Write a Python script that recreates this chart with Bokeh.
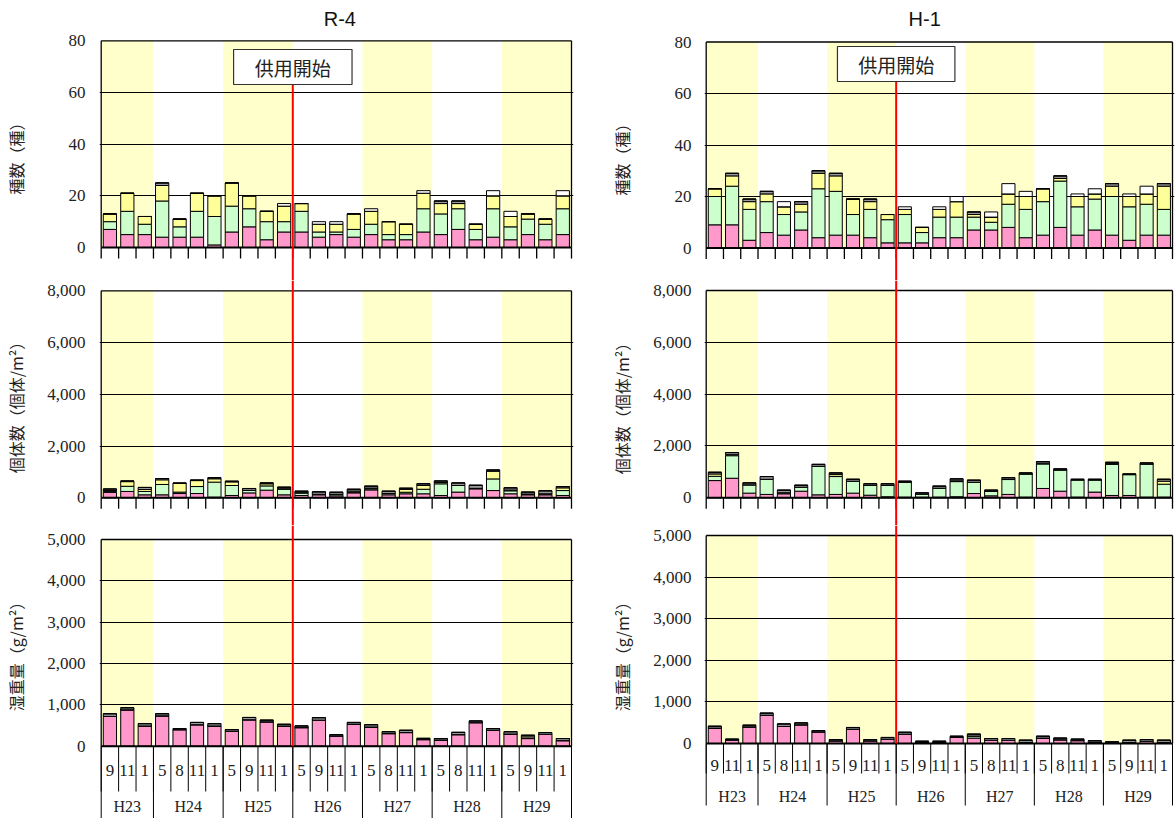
import numpy as np
from bokeh.plotting import figure
from bokeh.models import ColumnDataSource, FixedTicker, Range1d, NumeralTickFormatter
from bokeh.layouts import row, column
from bokeh.embed import file_html
from bokeh.resources import INLINE
from bokeh.core.properties import value

# ------------------------------------------------------------------ data
MONTHS = ["9", "11", "1",
          "5", "8", "11", "1",
          "5", "9", "11", "1",
          "5", "9", "11", "1",
          "5", "8", "11", "1",
          "5", "8", "11", "1",
          "5", "9", "11", "1"]
YEARS = ["H23", "H24", "H25", "H26", "H27", "H28", "H29"]
YEAR_SIZES = [3, 4, 4, 4, 4, 4, 4]
SHADED_YEARS = ["H23", "H25", "H27", "H29"]
START_YEAR = "H26"
START_LABEL = "供用開始"
STATIONS = ["R-4", "H-1"]
GROUPS = ["環形動物", "軟体動物", "節足動物", "棘皮動物", "その他"]
Y_LABELS = ["種数（種）", "個体数（個体/m²）", "湿重量（g/m²）"]
Y_TICKS = [[0, 20, 40, 60, 80],
           [0, 2000, 4000, 6000, 8000],
           [0, 1000, 2000, 3000, 4000, 5000]]

# R-4 species
R4_SP_ANN = [7, 5, 5, 4, 4, 4, 1, 6, 8, 3, 6, 6, 4, 5, 4, 5, 3, 3, 6, 5, 7, 3, 4, 3, 5, 3, 5]
R4_SP_MOL = [3, 9, 4, 14, 4, 10, 11, 10, 7, 7, 4, 8, 2, 1, 3, 4, 2, 2, 9, 8, 8, 4, 11, 5, 6, 6, 10]
R4_SP_ART = [3, 7, 3, 6, 3, 7, 8, 9, 5, 4, 6, 3, 3, 3, 6, 5, 5, 4, 6, 4, 2, 2, 5, 4, 2, 2, 5]
R4_SP_ECH = [0, 0, 0, 1, 0, 0, 0, 0, 0, 0, 0, 0, 0, 0, 0, 0, 0, 0, 0, 1, 1, 0, 0, 0, 0, 0, 0]
R4_SP_OTH = [0, 0, 0, 0, 0, 0, 0, 0, 0, 0, 1, 0, 1, 1, 0, 1, 0, 0, 1, 0, 0, 0, 2, 2, 0, 0, 2]
# H-1 species
H1_SP_ANN = [9, 9, 3, 6, 5, 7, 4, 5, 5, 4, 2, 2, 2, 4, 4, 7, 7, 8, 4, 5, 8, 5, 7, 5, 3, 5, 5]
H1_SP_MOL = [11, 15, 12, 12, 8, 7, 19, 17, 8, 11, 9, 11, 4, 8, 8, 5, 3, 9, 11, 13, 18, 11, 12, 15, 13, 12, 10]
H1_SP_ART = [3, 4, 3, 3, 3, 3, 6, 6, 6, 3, 2, 2, 2, 3, 6, 1, 2, 4, 5, 5, 1, 4, 2, 4, 4, 4, 9]
H1_SP_ECH = [0, 1, 1, 1, 0, 1, 1, 1, 0, 1, 0, 0, 0, 0, 0, 1, 0, 0, 0, 0, 1, 0, 0, 1, 0, 0, 1]
H1_SP_OTH = [0, 0, 0, 0, 2, 0, 0, 0, 0, 0, 0, 1, 0, 1, 2, 0, 2, 4, 2, 0, 0, 1, 2, 0, 1, 3, 0]
# R-4 abundance (individuals/m2)
R4_AB_ANN = [210, 245, 115, 115, 165, 165, 25, 90, 190, 295, 115, 90, 115, 75, 190, 305, 115, 155, 155, 90, 220, 345, 280, 155, 115, 115, 90]
R4_AB_MOL = [40, 200, 130, 400, 55, 270, 580, 385, 100, 165, 215, 90, 20, 60, 30, 40, 50, 60, 175, 450, 255, 20, 450, 115, 30, 40, 190]
R4_AB_ART = [30, 180, 75, 180, 345, 230, 130, 140, 0, 80, 20, 20, 0, 0, 40, 30, 0, 110, 145, 50, 0, 0, 295, 30, 0, 0, 105]
R4_AB_ECH = [60, 25, 80, 50, 0, 20, 40, 25, 70, 35, 60, 55, 95, 80, 70, 75, 90, 45, 65, 60, 100, 120, 50, 85, 75, 115, 50]
R4_AB_OTH = [0, 0, 0, 0, 0, 0, 0, 0, 0, 0, 0, 0, 0, 0, 0, 0, 0, 0, 0, 0, 0, 0, 0, 0, 0, 0, 0]
# H-1 abundance
H1_AB_ANN = [665, 755, 180, 130, 155, 255, 115, 130, 180, 100, 40, 25, 25, 25, 40, 165, 75, 130, 25, 360, 255, 25, 220, 90, 90, 25, 25]
H1_AB_MOL = [165, 870, 320, 585, 40, 155, 1100, 690, 460, 375, 435, 580, 115, 345, 585, 435, 170, 575, 895, 945, 820, 665, 470, 1200, 805, 1280, 500]
H1_AB_ART = [90, 40, 0, 0, 0, 0, 0, 75, 0, 0, 0, 0, 0, 0, 30, 0, 0, 20, 0, 30, 0, 0, 0, 30, 0, 0, 115]
H1_AB_ECH = [65, 80, 75, 105, 100, 75, 75, 65, 75, 65, 65, 35, 50, 80, 75, 80, 50, 55, 40, 60, 40, 25, 25, 50, 25, 40, 75]
H1_AB_OTH = [0, 0, 0, 0, 0, 0, 0, 0, 0, 0, 0, 0, 0, 0, 0, 0, 0, 0, 0, 0, 0, 0, 0, 0, 0, 0, 0]
# R-4 wet weight (g/m2)
R4_BM_ANN = [720, 880, 490, 735, 400, 520, 490, 360, 640, 590, 490, 450, 630, 250, 535, 465, 305, 330, 160, 150, 280, 570, 385, 295, 185, 290, 135]
R4_BM_MOL = [0, 0, 0, 0, 0, 0, 0, 0, 0, 0, 0, 0, 0, 0, 0, 0, 0, 0, 0, 0, 0, 0, 0, 0, 0, 0, 0]
R4_BM_ART = [0, 0, 0, 0, 0, 0, 0, 0, 0, 0, 0, 0, 0, 0, 0, 0, 0, 0, 0, 0, 0, 0, 0, 0, 40, 0, 0]
R4_BM_ECH = [65, 50, 55, 50, 25, 55, 55, 40, 55, 40, 40, 40, 60, 30, 40, 55, 45, 55, 30, 35, 55, 40, 40, 55, 40, 40, 50]
R4_BM_OTH = [0, 0, 0, 0, 0, 0, 0, 0, 0, 0, 0, 0, 0, 0, 0, 0, 0, 0, 0, 0, 0, 0, 0, 0, 0, 0, 0]
# H-1 wet weight
H1_BM_ANN = [370, 80, 400, 680, 410, 450, 280, 65, 345, 65, 105, 225, 25, 25, 145, 130, 80, 80, 25, 130, 90, 70, 25, 15, 25, 55, 25]
H1_BM_MOL = [0, 0, 0, 0, 0, 0, 0, 0, 0, 0, 0, 0, 0, 0, 0, 50, 0, 0, 0, 0, 0, 0, 0, 0, 0, 0, 0]
H1_BM_ART = [0, 0, 0, 0, 0, 0, 0, 0, 0, 0, 0, 0, 0, 0, 0, 0, 0, 0, 0, 0, 0, 0, 0, 0, 0, 0, 0]
H1_BM_ECH = [45, 25, 40, 50, 60, 45, 30, 30, 40, 30, 40, 45, 30, 30, 30, 45, 40, 40, 55, 45, 40, 35, 40, 25, 55, 40, 55]
H1_BM_OTH = [0, 0, 0, 0, 0, 0, 0, 0, 0, 0, 0, 0, 0, 0, 0, 0, 0, 0, 0, 0, 0, 0, 0, 0, 0, 0, 0]

STATION_DATA = {
    "R-4": [[R4_SP_ANN, R4_SP_MOL, R4_SP_ART, R4_SP_ECH, R4_SP_OTH],
            [R4_AB_ANN, R4_AB_MOL, R4_AB_ART, R4_AB_ECH, R4_AB_OTH],
            [R4_BM_ANN, R4_BM_MOL, R4_BM_ART, R4_BM_ECH, R4_BM_OTH]],
    "H-1": [[H1_SP_ANN, H1_SP_MOL, H1_SP_ART, H1_SP_ECH, H1_SP_OTH],
            [H1_AB_ANN, H1_AB_MOL, H1_AB_ART, H1_AB_ECH, H1_AB_OTH],
            [H1_BM_ANN, H1_BM_MOL, H1_BM_ART, H1_BM_ECH, H1_BM_OTH]],
}

# ------------------------------------------------------------------ styles / layout (page pixels)
COLORS = ["#FF99CC", "#CCFFCC", "#FFFF99", "#999999", "#FFFFFF"]
SHADE = "#FFFFCC"
SERIF_NAME = "Liberation Serif, DejaVu Serif, serif"
SERIF = value(SERIF_NAME)
CJK = value("Noto Sans CJK JP")
FRAME_TOPS = [0, 280, 525]
FRAME_BOTTOMS = [280, 525, 818]

GEOM = {
    "R-4": dict(fig_left=30, fig_right=598, frame_left=99, frame_right=573,
                x0=100.7, x27=571.0,
                panels=[(40.3, 247.0), (290.3, 497.3), (539.0, 745.7)],
                month_y=770, month_sep=791, year_y=806, year_sep=818,
                title_x=13.7, title_y=18.3, box=(49, 84), standoff=14),
    "H-1": dict(fig_left=640, fig_right=1175, frame_left=704, frame_right=1174,
                x0=705.7, x27=1172.0,
                panels=[(41.5, 247.5), (290.0, 497.3), (535.0, 743.0)],
                month_y=765, month_sep=773, year_y=796, year_sep=805,
                title_x=12.65, title_y=18.3, box=(46, 81), standoff=13),
}
LABEL_GEOM = {"R-4": dict(left=0, width=30, x=15.6, ys=[154, 403, 652]),
              "H-1": dict(left=598, width=42, x=621.6, ys=[155, 404, 652])}

N = len(MONTHS)
BOUNDS = list(np.cumsum([0] + YEAR_SIZES))


def make_panel(station, idx):
    g = GEOM[station]
    vmax = Y_TICKS[idx][-1]
    top, zero = g["panels"][idx]
    ftop, fbot = FRAME_TOPS[idx], FRAME_BOTTOMS[idx]
    ppu = (zero - top) / vmax

    def d(yp):
        return (zero - yp) / ppu

    slot = (g["x27"] - g["x0"]) / N
    xs = -(g["x0"] - g["frame_left"]) / slot
    xe = N + (g["frame_right"] - g["x27"]) / slot

    p = figure(frame_width=g["frame_right"] - g["frame_left"], frame_height=fbot - ftop,
               x_range=Range1d(xs, xe), y_range=Range1d(d(fbot), d(ftop)),
               min_border_left=g["frame_left"] - g["fig_left"],
               min_border_right=g["fig_right"] - g["frame_right"],
               min_border_top=0, min_border_bottom=0,
               x_axis_location=None, y_axis_location="left",
               toolbar_location=None, output_backend="svg", title=None,
               outline_line_color=None, background_fill_color="white",
               border_fill_color="white")

    # y axis
    ax = p.yaxis[0]
    ax.ticker = FixedTicker(ticks=Y_TICKS[idx])
    if idx > 0:
        ax.formatter = NumeralTickFormatter(format="0,0")
    ax.axis_line_color = None
    ax.major_tick_line_color = None
    ax.minor_tick_line_color = None
    ax.major_tick_out = 0
    ax.major_tick_in = 0
    ax.major_label_standoff = g["standoff"]
    ax.major_label_text_font = SERIF_NAME
    ax.major_label_text_font_size = "17px"
    ax.major_label_text_color = "#222222"

    p.xgrid.visible = False
    p.ygrid.ticker = FixedTicker(ticks=Y_TICKS[idx][1:-1])
    p.ygrid.grid_line_color = "#000000"
    p.ygrid.grid_line_width = 1

    # shaded fiscal years
    sh_l = [BOUNDS[i] for i, yname in enumerate(YEARS) if yname in SHADED_YEARS]
    sh_r = [BOUNDS[i + 1] for i, yname in enumerate(YEARS) if yname in SHADED_YEARS]
    r = p.quad(left=sh_l, right=sh_r, bottom=0, top=vmax, fill_color=SHADE, line_color=None)
    r.level = "image"

    # stacked bars
    series = STATION_DATA[station][idx]
    src = ColumnDataSource(dict(x=[i + 0.5 for i in range(N)], **{GROUPS[k]: series[k] for k in range(len(GROUPS))}))
    p.vbar_stack(GROUPS, x="x", width=0.76, source=src, fill_color=COLORS,
                 line_color="black", line_width=1)

    # frame lines
    p.segment(x0=[0, 0, N], y0=[vmax, 0, 0], x1=[N, 0, N], y1=[vmax, vmax, vmax],
              line_color="black", line_width=1.3)
    p.segment(x0=[0], y0=[0], x1=[N], y1=[0], line_color="black", line_width=2)

    start_x = BOUNDS[YEARS.index(START_YEAR)]
    if idx < 2:
        ticks = list(range(N + 1))
        p.segment(x0=ticks, y0=0, x1=ticks, y1=d(zero + 11), line_color="black", line_width=1.3)
    else:
        seps = list(range(N + 1))
        p.segment(x0=seps, y0=0, x1=seps, y1=d(g["month_sep"]), line_color="black", line_width=1)
        p.segment(x0=BOUNDS, y0=0, x1=BOUNDS, y1=d(g["year_sep"]), line_color="black", line_width=1)
        p.text(x=[i + 0.5 for i in range(N)], y=[d(g["month_y"])] * N, text=MONTHS,
               text_font=SERIF, text_font_size="17px", text_align="center",
               text_baseline="middle", text_color="#222222")
        ycent = [(BOUNDS[i] + BOUNDS[i + 1]) / 2 for i in range(len(YEARS))]
        p.text(x=ycent, y=[d(g["year_y"])] * len(YEARS), text=YEARS,
               text_font=SERIF, text_font_size="16px", text_align="center",
               text_baseline="middle", text_color="#222222")

    # start-of-operation line
    if idx == 0:
        bt, bb = g["box"]
        p.segment(x0=[start_x], y0=[d(bb)], x1=[start_x], y1=[d(fbot)], line_color="#FF0000", line_width=2)
        p.quad(left=[start_x - 3.4], right=[start_x + 3.4], top=[d(bt)], bottom=[d(bb)],
               fill_color="white", line_color="#333333", line_width=1.2)
        p.text(x=[start_x], y=[d((bt + bb) / 2)], text=[START_LABEL], text_font=CJK,
               text_font_size="19px", text_align="center", text_baseline="middle",
               text_color="#222222")
        p.text(x=[g["title_x"]], y=[d(g["title_y"])], text=[station],
               text_font=value("Liberation Sans"), text_font_size="20px",
               text_align="center", text_baseline="middle", text_color="#111111")
    elif idx == 1:
        p.segment(x0=[start_x], y0=[d(fbot)], x1=[start_x], y1=[d(ftop)], line_color="#FF0000", line_width=2)
    else:
        p.segment(x0=[start_x], y0=[0], x1=[start_x], y1=[d(ftop)], line_color="#FF0000", line_width=2)
    return p


def make_label_fig(station):
    lg = LABEL_GEOM[station]
    lf = figure(width=lg["width"], height=FRAME_BOTTOMS[-1] - FRAME_TOPS[0],
                x_range=Range1d(0, lg["width"]), y_range=Range1d(FRAME_BOTTOMS[-1], FRAME_TOPS[0]),
                min_border=0, x_axis_location=None, y_axis_location=None,
                toolbar_location=None, output_backend="svg", title=None,
                outline_line_color=None)
    lf.xgrid.visible = False
    lf.ygrid.visible = False
    lf.text(x=[lg["x"] - lg["left"]] * 3, y=lg["ys"], text=Y_LABELS, angle=np.pi / 2,
            text_font=CJK, text_font_size="16px", text_align="center",
            text_baseline="middle", text_color="#222222")
    return lf


cols = []
for st in STATIONS:
    cols.append(make_label_fig(st))
    cols.append(column(*[make_panel(st, i) for i in range(3)], spacing=0))

layout = row(*cols, spacing=0)

with open("out.html", "w", encoding="utf-8") as f:
    f.write(file_html(layout, INLINE, title="R-4 / H-1"))
